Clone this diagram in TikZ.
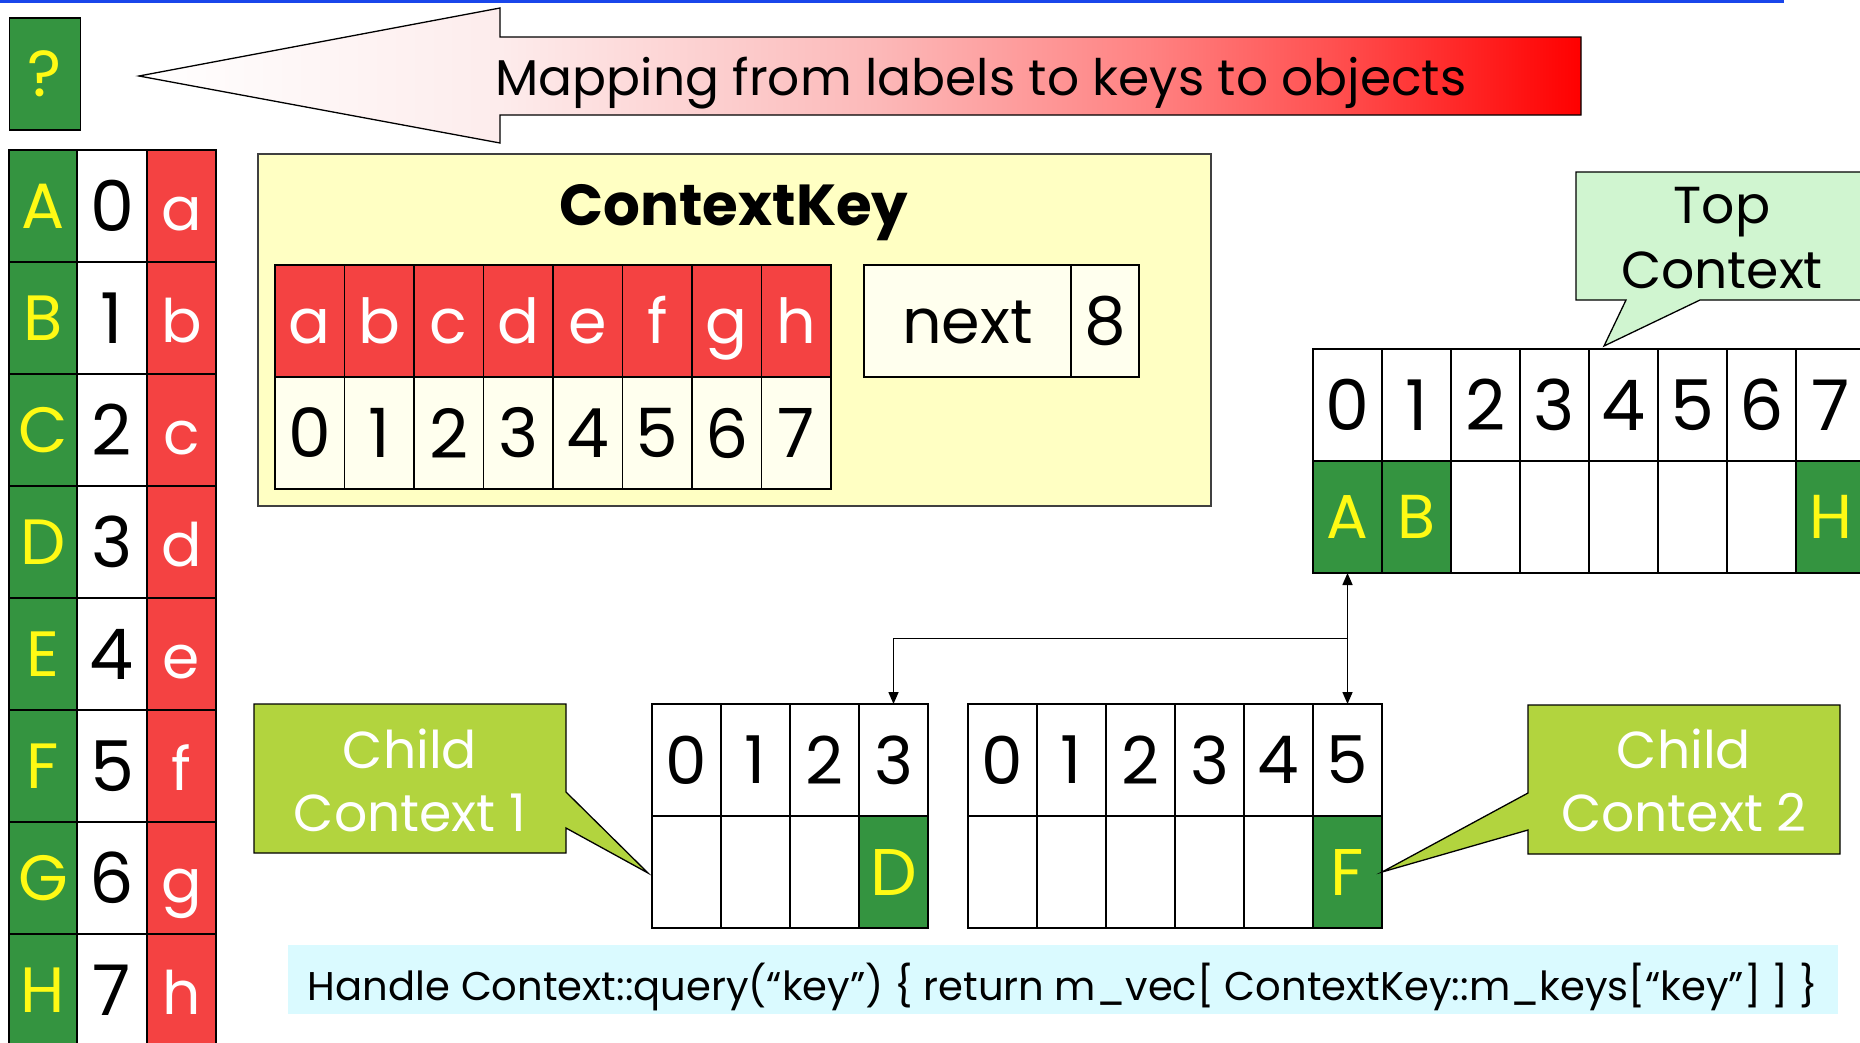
\documentclass[tikz,border=0pt]{standalone}
\usepackage{fontspec}
\setmainfont{Poppins}
\usepackage{graphicx}
\usetikzlibrary{arrows.meta,calc}

\newcommand{\fsz}[1]{\fontsize{#1pt}{#1pt}\selectfont}

\definecolor{topblue}{RGB}{25,70,235}
\definecolor{objgreen}{RGB}{52,148,64}
\definecolor{labelyellow}{RGB}{255,250,20}
\definecolor{keyred}{RGB}{244,66,66}
\definecolor{ckfill}{RGB}{255,255,195}
\definecolor{ckcell}{RGB}{255,255,238}
\definecolor{topnote}{RGB}{208,245,208}
\definecolor{childnote}{RGB}{178,212,62}
\definecolor{codefill}{RGB}{218,250,255}
\definecolor{fadeA}{RGB}{253,236,236}
\definecolor{fadeB}{RGB}{252,185,185}
\definecolor{fadeC}{RGB}{255,130,130}
\definecolor{fadeD}{RGB}{255,80,80}

% white head fading into a red tail
\pgfdeclarehorizontalshading{mapfade}{100bp}{color(0bp)=(white); color(25bp)=(white); color(37.5bp)=(fadeA); color(50.5bp)=(fadeB); color(60bp)=(fadeC); color(66.4bp)=(fadeD); color(75bp)=(red); color(100bp)=(red)}

\tikzset{
  cellbox/.style={draw=black, line width=1.6pt, minimum width=69pt, minimum height=112pt, inner sep=0pt, outer sep=0pt},
  objcell/.style={cellbox, fill=objgreen, text=labelyellow, font=\fsz{64}},
  keycell/.style={cellbox, fill=keyred, text=white, font=\fsz{60}, text height=48pt, text depth=0pt},
  idxcell/.style={cellbox, fill=white, text=black, font=\fsz{70}},
  emptycell/.style={cellbox, fill=white},
  note/.style={draw=black, line width=1.3pt},
  notetext/.style={anchor=base, font=\fsz{52}, inner sep=0pt},
  link/.style={draw=black, line width=1.5pt},
  linkhead/.tip={Triangle[length=12pt,width=10pt]}
}

\begin{document}
\begin{tikzpicture}[x=1pt,y=-1pt]
\useasboundingbox (0,0) rectangle (1860,1042);
\clip (0,0) rectangle (1860,1042);
\fill[white] (0,0) rectangle (1860,1042);

% rule along the top edge
\fill[topblue] (0,0) rectangle (1784,3);

% unknown object
\node[objcell, minimum width=71pt, font=\fsz{65}] (unknown) at (45,74) {?};

% big arrow pointing to the unknown object
\shadedraw[shading=mapfade, draw=black, line width=1.3pt]
  (139,76) -- (500,8) -- (500,37) -- (1581,37) -- (1581,115) -- (500,115) -- (500,143) -- cycle;
\node[anchor=base, font=\fsz{58}, inner sep=0pt] (maptext) at (981,95)
  {\resizebox{971pt}{!}{Mapping from labels to keys to objects}};

% label / key / object table on the left
\foreach \Up/\Dg/\Lo [count=\i from 0] in {A/0/a,B/1/b,C/2/c,D/3/d,E/4/e,F/5/f,G/6/g,H/7/h} {
  \node[objcell, minimum width=68pt] (obj\i) at (43,{206+112*\i}) {\Up};
  \node[idxcell, minimum width=70pt] (idx\i) at (112,{206+112*\i}) {\Dg};
  \node[keycell] (lab\i) at (181.5,{206+112*\i}) {\Lo};
}

% ContextKey panel
\node[draw=black!75, line width=1.3pt, fill=ckfill, minimum width=953pt, minimum height=352pt, inner sep=0pt] (ckbox) at (734.5,330) {};
\node[anchor=base, font=\bfseries\fsz{68}, inner sep=0pt] (cktitle) at (734,225) {\resizebox{349pt}{!}{ContextKey}};
\foreach \Lo [count=\i from 0] in {a,b,c,d,e,f,g,h} {
  \node[keycell, minimum width=69.5pt, font=\fsz{62}, text height=44pt] (ckl\i) at ({309.75+69.5*\i},321) {\Lo};
  \node[idxcell, fill=ckcell, minimum width=69.5pt, font=\fsz{68}] (ckd\i) at ({309.75+69.5*\i},433) {\i};
}
\node[cellbox, fill=ckcell, minimum width=207pt, font=\fsz{62}, text height=44pt, text depth=0pt] (next) at (967.5,321) {next};
\node[idxcell, fill=ckcell, minimum width=68pt, font=\fsz{66}] (nextval) at (1105,321) {8};

% top context vector
\foreach \i in {0,...,7}
  \node[idxcell] (td\i) at ({1347.5+69*\i},405) {\i};
\node[objcell, font=\fsz{62}] (tv0) at (1347.5,517) {A};
\node[objcell, font=\fsz{62}] (tv1) at (1416.5,517) {B};
\foreach \i in {2,...,6}
  \node[emptycell] (tv\i) at ({1347.5+69*\i},517) {};
\node[objcell, font=\fsz{62}] (tv7) at (1830.5,517) {H};

% child context 1 vector
\foreach \i in {0,...,3}
  \node[idxcell, font=\fsz{66}] (ad\i) at ({686.5+69*\i},760) {\i};
\foreach \i in {0,...,2}
  \node[emptycell] (av\i) at ({686.5+69*\i},872) {};
\node[objcell, font=\fsz{66}] (av3) at (893.5,872) {D};

% child context 2 vector
\foreach \i in {0,...,5}
  \node[idxcell, font=\fsz{66}] (bd\i) at ({1002.5+69*\i},760) {\i};
\foreach \i in {0,...,4}
  \node[emptycell] (bv\i) at ({1002.5+69*\i},872) {};
\node[objcell, font=\fsz{66}] (bv5) at (1347.5,872) {F};

% parent links
\coordinate (fork) at ($(tv0.south)!0.5!(bd5.north)$);
\draw[link, linkhead-linkhead] (tv0.south) -- (bd5.north);
\draw[link, -linkhead] (fork) -| (ad3.north);

% callouts
\filldraw[note, fill=topnote]
  (1576,172) -- (1868,172) -- (1868,300) -- (1700,300) -- (1604,346) -- (1626,300) -- (1576,300) -- cycle;
\node[notetext] (toplbl1) at (1722,223) {Top};
\node[notetext] (toplbl2) at (1722,288) {Context};

\filldraw[note, fill=childnote]
  (254,704) -- (566,704) -- (566,792) -- (648,873) -- (566,828) -- (566,853) -- (254,853) -- cycle;
\node[notetext, text=white] (c1lbl1) at (410,768) {Child};
\node[notetext, text=white] (c1lbl2) at (410,831) {Context 1};

\filldraw[note, fill=childnote]
  (1528,705) -- (1840,705) -- (1840,854) -- (1528,854) -- (1528,830) -- (1382,872) -- (1528,793) -- cycle;
\node[notetext, text=white] (c2lbl1) at (1684,768) {Child};
\node[notetext, text=white] (c2lbl2) at (1684,831) {Context 2};

% lookup code
\node[fill=codefill, minimum width=1550pt, minimum height=69pt, inner sep=0pt] (codebox) at (1063,979.5) {};
\node[anchor=base, font=\fsz{52}, inner sep=0pt] (code) at (1063,1000)
  {\resizebox{1510pt}{!}{Handle Context::query(“key”) \{ return m\_vec[ ContextKey::m\_keys[“key”] ] \}}};
\end{tikzpicture}
\end{document}
